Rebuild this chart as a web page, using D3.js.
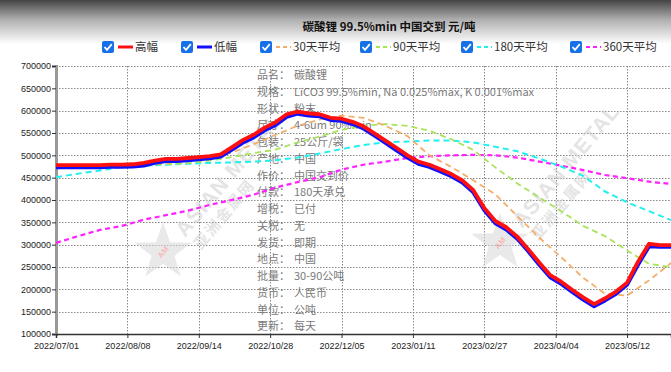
<!DOCTYPE html>
<html>
<head>
<meta charset="utf-8">
<script src="https://cdn.jsdelivr.net/npm/d3@7/dist/d3.min.js"></script>
<style>
body { margin: 0; background: #fff; }
svg { display: block; }
</style>
</head>
<body>
<div id="root"></div>
<script>
// x axis is trading-day index, labels every 26 days
const tickLabels = ["2022/07/01", "2022/08/08", "2022/09/14", "2022/10/28", "2022/12/05",
	"2023/01/11", "2023/02/27", "2023/04/04", "2023/05/12"];
const tickEvery = 26;
const lastIndex = 224;

// high / low sampled every 4 trading days
const priceStep = 4;
const high = [478000, 478000, 478000, 478000, 478000, 479000, 479000, 480000, 483000, 488000,
	492000, 492000, 494000, 496000, 498000, 502000, 518000, 534000, 546000, 562000,
	574000, 592000, 598000, 594000, 592000, 584000, 582000, 575000, 565000, 549000,
	533000, 517000, 500000, 486000, 479000, 469000, 458000, 444000, 422000, 382000,
	353000, 339000, 318000, 290000, 260000, 232000, 217000, 199000, 182000, 167000,
	180000, 195000, 215000, 262000, 302000, 299000, 299000];
const low = [473000, 473000, 473000, 473000, 473000, 474000, 474000, 475000, 477000, 483000,
	487000, 487000, 489000, 491000, 493000, 497000, 512000, 528000, 540000, 556000,
	568000, 586000, 593000, 589000, 587000, 579000, 577000, 570000, 560000, 544000,
	528000, 511000, 495000, 481000, 474000, 464000, 453000, 439000, 417000, 377000,
	348000, 334000, 313000, 285000, 255000, 227000, 212000, 194000, 177000, 162000,
	175000, 190000, 210000, 255000, 296000, 295000, 295000];

// moving averages sampled every 8 trading days
const maStep = 8;
const ma30 = [477000, 477000, 477000, 478000, 479000, 483000, 488000, 496000, 506000, 525000,
	546000, 566000, 580000, 589000, 584000, 566000, 543000, 500000, 474000, 444000,
	413000, 364000, 316000, 272000, 226000, 190000, 186000, 220000, 259000];
const ma90 = [477000, 477000, 477000, 477000, 478000, 480000, 482000, 488000, 496000, 505000,
	513000, 529000, 542000, 557000, 566000, 570000, 566000, 555000, 536000, 512000,
	473000, 437000, 406000, 375000, 342000, 319000, 287000, 257000, 250000];
const ma180 = [451000, 459000, 466000, 474000, 477000, 479000, 481000, 483000, 484000, 486000,
	489000, 495000, 504000, 514000, 523000, 529000, 531000, 533000, 533000, 529000,
	519000, 509000, 493000, 475000, 454000, 419000, 395000, 375000, 355000];
const ma360 = [304000, 319000, 333000, 342000, 356000, 366000, 376000, 389000, 400000, 412000,
	428000, 440000, 451000, 468000, 479000, 486000, 494000, 498000, 500000, 501000,
	500000, 495000, 486000, 477000, 467000, 456000, 449000, 441000, 436000];

const seriesNames = ["高幅", "低幅", "30天平均", "90天平均", "180天平均", "360天平均"];

const infoLabels = ["品名", "规格", "形状", "尺寸", "包装", "产地", "作价", "付款",
	"增税", "关税", "发货", "地点", "批量", "货币", "单位", "更新"];
const infoValues = ["碳酸锂", "LiCO3 99.5%min, Na 0.025%max, K 0.001%max", "粉末", "4-6um 90%min",
	"25公斤/袋", "中国", "中国交到价", "180天承兑", "已付", "无", "即期", "中国",
	"30-90公吨", "人民币", "公吨", "每天"];

const title = "碳酸锂 99.5%min 中国交到 元/吨";

const W = 671, H = 372;
const cjk = "'Noto Sans CJK SC', 'Noto Sans', sans-serif";
const latin = "'Liberation Sans', Arial, sans-serif";

const svg = d3.select("#root").append("svg").attr("width", W).attr("height", H);
const defs = svg.append("defs");

const grad = defs.append("linearGradient").attr("id", "head").attr("x1", 0).attr("y1", 0).attr("x2", 0).attr("y2", 1);
grad.append("stop").attr("offset", "0%").attr("stop-color", "#444");
grad.append("stop").attr("offset", "45%").attr("stop-color", "#b0b0b0");
grad.append("stop").attr("offset", "100%").attr("stop-color", "#ffffff");
svg.append("rect").attr("width", W).attr("height", 44).attr("fill", "url(#head)");

const x = d3.scaleLinear().domain([0, lastIndex]).range([56, 671]);
const y = d3.scaleLinear().domain([100000, 700000]).range([334, 66]);

defs.append("clipPath").attr("id", "clip")
	.append("rect").attr("x", 56).attr("y", 55).attr("width", 620).attr("height", 285);

const yTicks = d3.range(100000, 700001, 50000);
const xTicks = tickLabels.map((d, i) => i * tickEvery);

// grid
const grid = svg.append("g").attr("stroke", "#888").attr("stroke-dasharray", "1.5,1.5").attr("stroke-width", 1);
grid.selectAll(".h").data(yTicks).join("line")
	.attr("x1", 56).attr("x2", W).attr("y1", d => Math.round(y(d)) + 0.5).attr("y2", d => Math.round(y(d)) + 0.5);
grid.selectAll(".v").data(xTicks.slice(1)).join("line")
	.attr("x1", d => Math.round(x(d)) + 0.5).attr("x2", d => Math.round(x(d)) + 0.5).attr("y1", 66).attr("y2", 334);

// watermarks
function watermark(cx, cy) {
	const g = svg.append("g").attr("opacity", 0.55);
	const star = d3.range(10).map(i => {
		const r = i % 2 ? 12 : 30, a = -Math.PI / 2 + i * Math.PI / 5;
		return [cx + r * Math.cos(a), cy + r * Math.sin(a)];
	});
	g.append("polygon").attr("points", star.join(" ")).attr("fill", "#d8d8d8");
	g.append("text").attr("x", cx).attr("y", cy + 3).attr("text-anchor", "middle")
		.attr("transform", `rotate(-50,${cx},${cy})`)
		.attr("font-family", latin).attr("font-size", 8).attr("font-weight", "bold").attr("fill", "#f08080").text("AM");
	g.append("text").attr("transform", `translate(${cx + 22},${cy - 14}) rotate(-50)`)
		.attr("font-family", latin).attr("font-size", 21).attr("font-weight", "bold").attr("fill", "#cfcfcf")
		.attr("letter-spacing", 1).text("ASIAN METAL");
	g.append("text").attr("transform", `translate(${cx + 38},${cy - 2}) rotate(-50)`)
		.attr("font-family", cjk).attr("font-size", 15).attr("font-weight", "bold").attr("fill", "#cfcfcf")
		.attr("letter-spacing", 2).text("亚洲金属网");
}
watermark(163, 252);
watermark(500, 243);

// info block
const info = svg.append("g").attr("font-family", cjk).attr("font-size", 11).attr("fill", "#7a7a7a");
info.selectAll(".lab").data(infoLabels).join("text")
	.attr("x", 257).attr("y", (d, i) => 79 + i * 16.75).text(d => d + "：");
info.selectAll(".val").data(infoValues).join("text")
	.attr("x", 294).attr("y", (d, i) => 79 + i * 16.75).text(d => d);

// axes
const yAxis = svg.append("g").attr("transform", "translate(56,0)")
	.call(d3.axisLeft(y).tickValues(yTicks).tickSize(4).tickFormat(d3.format("d")));
yAxis.select(".domain").attr("stroke", "#999").attr("stroke-width", 3);
yAxis.selectAll("text").attr("font-family", latin).attr("font-size", 9).attr("fill", "#222").attr("x", -5);
yAxis.selectAll(".tick line").attr("stroke", "#333");

const xAxis = svg.append("g").attr("transform", "translate(0,334)")
	.call(d3.axisBottom(x).tickValues(xTicks).tickSize(4).tickFormat((d, i) => tickLabels[i]));
xAxis.select(".domain").attr("stroke", "#333").attr("stroke-width", 1.5);
xAxis.selectAll("text").attr("font-family", latin).attr("font-size", 9).attr("fill", "#222").attr("dy", "0.9em");
xAxis.selectAll(".tick line").attr("stroke", "#333");

// lines
const plot = svg.append("g").attr("clip-path", "url(#clip)").attr("fill", "none");
const lineFor = step => d3.line().x((d, i) => x(i * step)).y(d => y(d));

const maStyles = [
	{ data: ma360, color: "#ff22ff", dash: "5,3.5", width: 2.2 },
	{ data: ma180, color: "#22f0f0", dash: "6,4", width: 2 },
	{ data: ma90, color: "#a8e45a", dash: "6,4", width: 1.8 },
	{ data: ma30, color: "#f2ae6a", dash: "6,4", width: 1.8 },
];
maStyles.forEach(s => {
	plot.append("path").datum(s.data).attr("d", lineFor(maStep))
		.attr("stroke", s.color).attr("stroke-width", s.width).attr("stroke-dasharray", s.dash);
});

plot.append("path").datum(low).attr("d", lineFor(priceStep))
	.attr("stroke", "#1010ff").attr("stroke-width", 3.8).attr("stroke-linejoin", "round");
plot.append("path").datum(high).attr("d", lineFor(priceStep))
	.attr("stroke", "#ff1010").attr("stroke-width", 3.8).attr("stroke-linejoin", "round");

// title
svg.append("text").attr("x", 389).attr("y", 31).attr("text-anchor", "middle")
	.attr("font-family", cjk).attr("font-size", 11.5).attr("font-weight", "bold").attr("fill", "#111")
	.text(title);

// legend
const legendX = [108, 187, 266, 366, 467, 576];
const legendStyle = [
	{ color: "#ff1010", dash: null },
	{ color: "#1010ff", dash: null },
	{ color: "#f2ae6a", dash: "4,3" },
	{ color: "#a8e45a", dash: "4,3" },
	{ color: "#22f0f0", dash: "4,3" },
	{ color: "#ff22ff", dash: "4,3" },
];
const legend = svg.append("g").selectAll("g").data(seriesNames).join("g")
	.attr("transform", (d, i) => `translate(${legendX[i]},47)`);
legend.append("rect").attr("x", -6).attr("y", -6).attr("width", 12).attr("height", 12).attr("rx", 2)
	.attr("fill", "#1670e8");
legend.append("path").attr("d", "M-3.5,0 L-1,2.8 L3.8,-2.8").attr("fill", "none")
	.attr("stroke", "#fff").attr("stroke-width", 1.8);
legend.append("line").attr("x1", 10).attr("x2", 25).attr("y1", 0).attr("y2", 0)
	.attr("stroke", (d, i) => legendStyle[i].color)
	.attr("stroke-width", (d, i) => legendStyle[i].dash ? 2 : 3)
	.attr("stroke-dasharray", (d, i) => legendStyle[i].dash);
legend.append("text").attr("x", 27).attr("y", 4.2)
	.attr("font-family", cjk).attr("font-size", 11.5).attr("fill", "#333").text(d => d);
</script>
</body>
</html>
